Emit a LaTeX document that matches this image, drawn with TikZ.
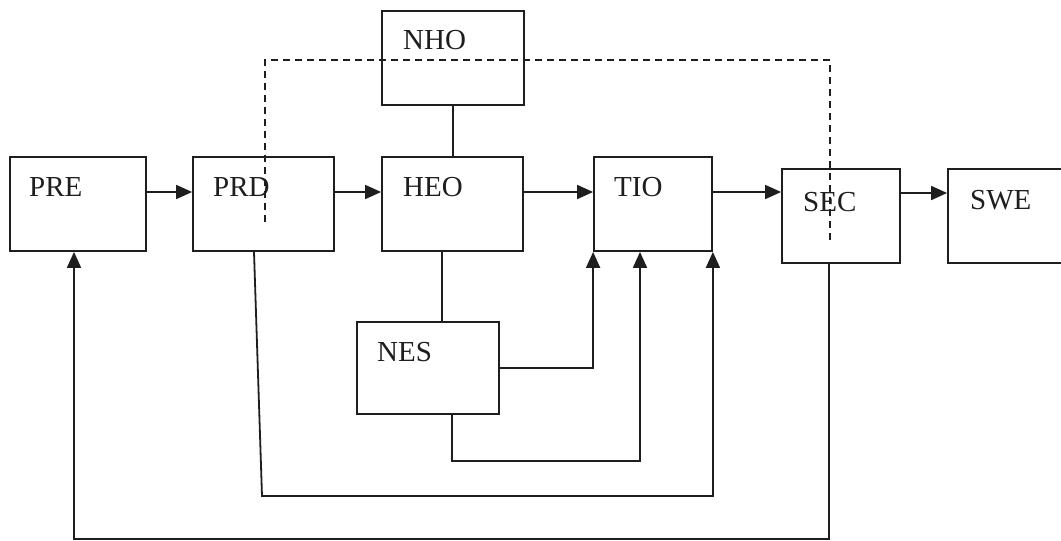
\documentclass[tikz,border=0pt]{standalone}
\usepackage{fontspec}
\setmainfont{Liberation Serif}
\usetikzlibrary{arrows.meta,calc}
\definecolor{ink}{HTML}{1E1E1E}
\begin{document}
\begin{tikzpicture}[x=1pt,y=-1pt,
  box/.style={draw=ink,line width=1.8pt,rectangle,inner sep=0pt,minimum height=94pt},
  lbl/.style={anchor=west,font=\fontsize{29}{29}\selectfont,text=ink,inner sep=0pt},
  conn/.style={draw=ink,line width=1.8pt},
  arr/.style={conn,-{Triangle[length=16pt,width=14pt]}},
  dashedconn/.style={draw=ink,line width=1.8pt,dash pattern=on 7pt off 5pt}
]
\useasboundingbox (0,0) rectangle (1061,541);
\clip (0,0) rectangle (1061,541);
\fill[white] (0,0) rectangle (1061,541);

% boxes
\node[box,minimum width=136pt] (pre) at (78,204) {};
\node[box,minimum width=141pt] (prd) at (263.5,204) {};
\node[box,minimum width=141pt] (heo) at (452.5,204) {};
\node[box,minimum width=142pt] (nho) at (453,58) {};
\node[box,minimum width=118pt] (tio) at (653,204) {};
\node[box,minimum width=118pt] (sec) at (841,216) {};
\node[box,minimum width=142pt] (swe) at (1019,216) {};
\node[box,minimum width=142pt,minimum height=92pt] (nes) at (428,368) {};

% labels
\node[lbl] (tpre) at (29,187) {PRE};
\node[lbl] (tprd) at (213,187) {PRD};
\node[lbl] (theo) at (403,187) {HEO};
\node[lbl] (tnho) at (403,40) {NHO};
\node[lbl] (ttio) at (614,187) {TIO};
\node[lbl] (tsec) at (803,202) {SEC};
\node[lbl] (tswe) at (970,200) {SWE};
\node[lbl] (tnes) at (377,352) {NES};

% main chain
\draw[arr] ([yshift=12pt]pre.east) -- ([yshift=12pt]pre.east -| prd.west);
\draw[arr] ([yshift=12pt]prd.east) -- ([yshift=12pt]prd.east -| heo.west);
\draw[arr] ([yshift=12pt]heo.east) -- ([yshift=12pt]heo.east -| tio.west);
\draw[arr] ([yshift=12pt]tio.east) -- ([yshift=12pt]tio.east -| sec.west);
\draw[arr] ([yshift=23pt]sec.east) -- ([yshift=23pt]sec.east -| swe.west);

% plain links
\draw[conn] (nho.south) -- (nho.south |- heo.north);
\draw[conn] ([xshift=-10.5pt]heo.south) -- ([xshift=-10.5pt]heo.south |- nes.north);

% NES to TIO
\draw[arr] (nes.east) -| (tio.south west);
\coordinate (nesb) at (0,461);
\draw[arr] ([xshift=24pt]nes.south) -- ([xshift=24pt]nes.south |- nesb) -| ([xshift=-13pt]tio.south);

% PRD to TIO
\coordinate (prdbend) at (262,496);
\draw[arr] ([xshift=-9.5pt]prd.south) -- (prdbend) -| (tio.south east);

% feedback SEC to PRE
\coordinate (fb) at (0,539);
\draw[arr] ([xshift=-12pt]sec.south) -- ([xshift=-12pt]sec.south |- fb) -| ([xshift=-4pt]pre.south);

% dashed link PRD to SEC
\coordinate (dA) at (265,222);
\coordinate (dB) at (830,243);
\coordinate (dtop) at (0,60);
\draw[dashedconn] (dA) -- (dA |- dtop) -| (dB);
\end{tikzpicture}
\end{document}
